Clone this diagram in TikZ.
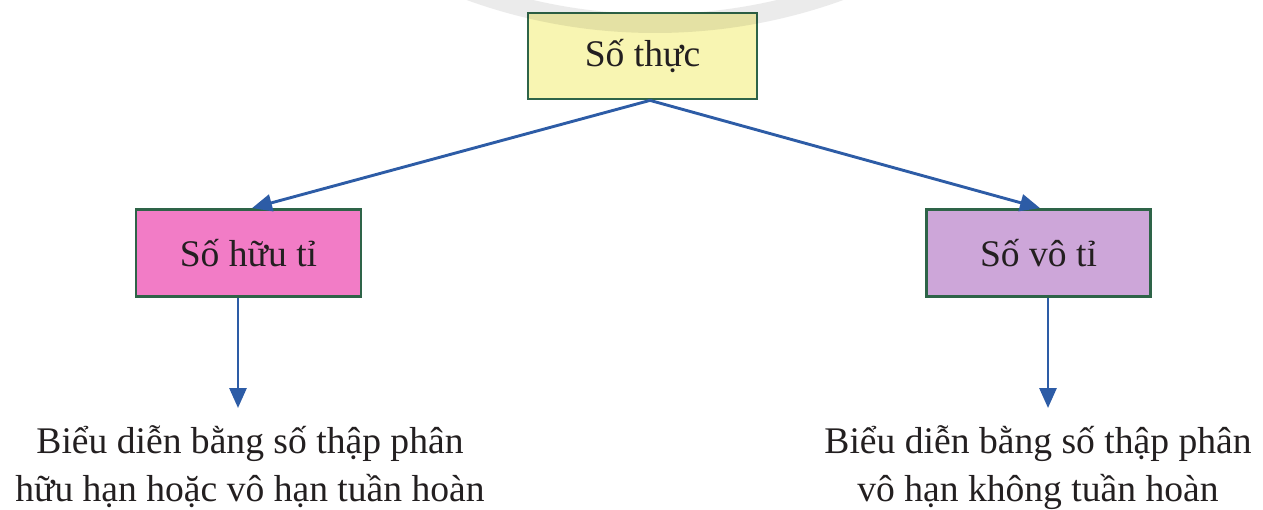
\documentclass[tikz,border=0pt]{standalone}
\usepackage{fontspec}
\setmainfont{Liberation Serif}
\usetikzlibrary{arrows.meta}
\definecolor{yellowbox}{HTML}{F8F5B2}
\definecolor{pinkbox}{HTML}{F27CC6}
\definecolor{lilacbox}{HTML}{CDA6D9}
\definecolor{boxborder}{HTML}{2E6448}
\definecolor{arrowblue}{HTML}{2D5CA6}
\definecolor{textdark}{HTML}{231F20}
\tikzset{
  box/.style={draw=boxborder, line width=2.8pt, inner sep=0pt, text=textdark,
    font=\fontsize{37.6}{48}\selectfont},
  conn/.style={draw=arrowblue, line width=2.9pt,
    -{Triangle[length=20pt,width=17pt]}},
  desc/.style={align=center, inner sep=0pt, text=textdark,
    font=\fontsize{37.6}{48}\selectfont}
}
\begin{document}
\begin{tikzpicture}[x=1pt,y=-1pt]
\useasboundingbox (0,0) rectangle (1263,510);
\node[box, fill=yellowbox, minimum width=229pt, minimum height=86pt] (real) at (642.5,56) {Số thực};
\node[box, fill=pinkbox, minimum width=225pt, minimum height=87pt] (rat) at (248.5,253) {Số hữu tỉ};
\node[box, fill=lilacbox, minimum width=224pt, minimum height=87pt] (irr) at (1038.5,253) {Số vô tỉ};
\node[desc, anchor=north] (ratdesc) at (250,425) {Biểu diễn bằng số thập phân\\hữu hạn hoặc vô hạn tuần hoàn};
\node[desc, anchor=north] (irrdesc) at (1038,425) {Biểu diễn bằng số thập phân\\vô hạn không tuần hoàn};
\coordinate (top) at ([xshift=7.5pt]real.south);
\coordinate (ratin) at ([xshift=3.5pt]rat.north);
\coordinate (irrin) at ([xshift=1.5pt]irr.north);
\draw[conn] (top) -- (ratin);
\draw[conn] (top) -- (irrin);
\coordinate (ratout) at ([xshift=-10.5pt]rat.south);
\coordinate (irrout) at ([xshift=9.5pt]irr.south);
\coordinate (ratend) at (ratout |- 0,408);
\coordinate (irrend) at (irrout |- 0,408);
\draw[conn] (ratout) -- (ratend);
\draw[conn] (irrout) -- (irrend);
\begin{scope}
\clip (0,0) rectangle (1263,510);
\fill[black, opacity=0.08, even odd rule] (655,-519) circle[radius=552pt] (655,-519) circle[radius=533pt];
\end{scope}
\end{tikzpicture}
\end{document}
